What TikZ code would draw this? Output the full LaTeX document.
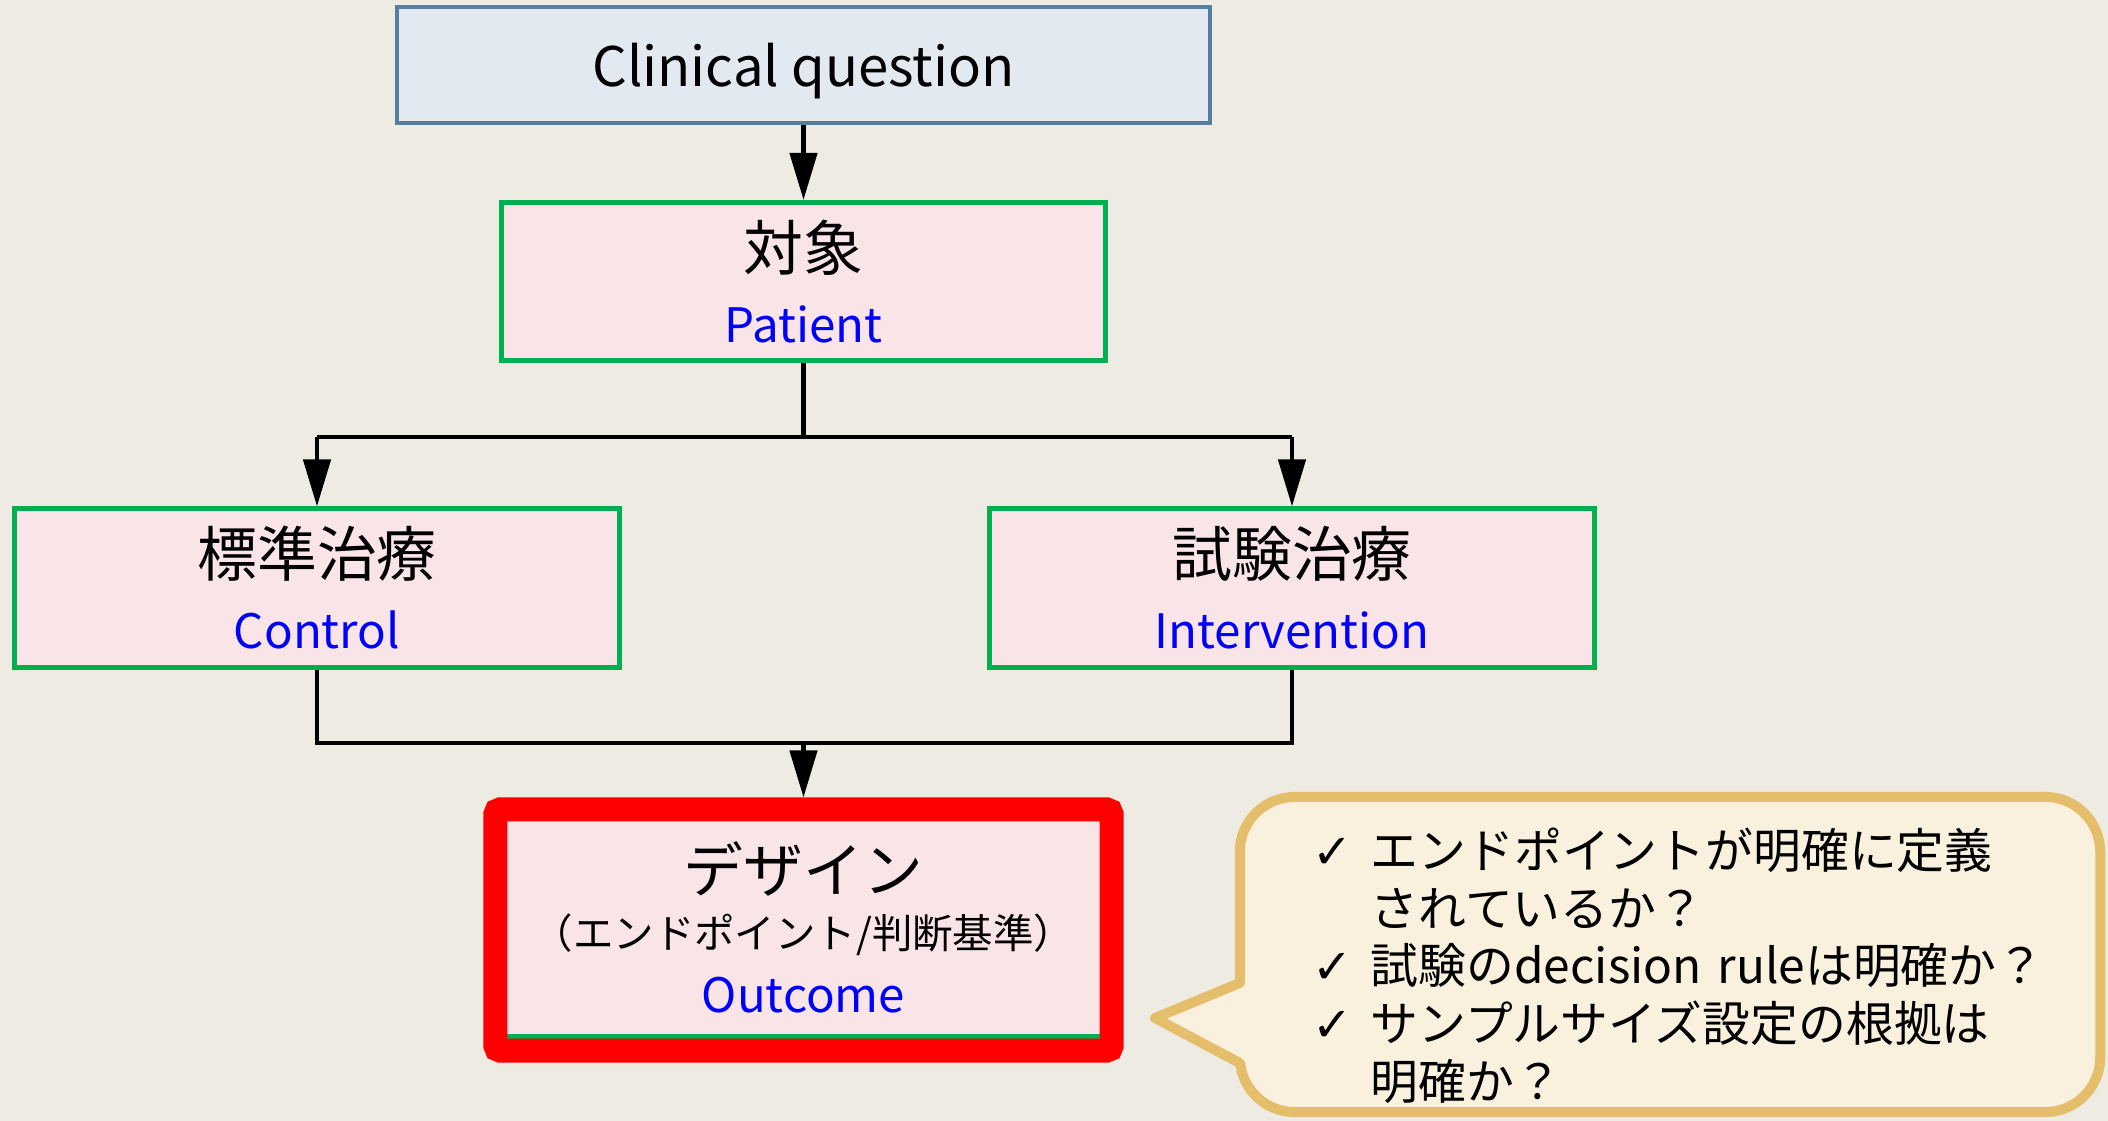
\documentclass[tikz,border=0pt]{standalone}
\usepackage{fontspec}
\setmainfont{Noto Sans CJK JP}
\newfontfamily\symfont{DejaVu Sans}
\usepackage{tikz}
\usetikzlibrary{arrows.meta,positioning,fit,calc}
\usepackage{xcolor}
\definecolor{bg}{RGB}{238,235,226}
\definecolor{qfill}{RGB}{226,233,240}
\definecolor{qline}{RGB}{86,126,158}
\definecolor{ppink}{RGB}{249,228,232}
\definecolor{pgreen}{RGB}{0,176,80}
\definecolor{bfill}{RGB}{249,240,222}
\definecolor{bline}{RGB}{228,190,106}
\newcommand{\kw}[1]{\textcolor{blue}{#1}}
\newcommand{\chk}{\makebox[0.58cm][l]{\symfont ✓}}
\tikzset{
pbox/.style = {rectangle, align=center, inner sep=0pt, text centered,
font=\fontsize{13.5pt}{0.72cm}\selectfont},
pbox_q/.style = {pbox, draw=qline, fill=qfill, line width=0.035cm, minimum width=8.13cm, minimum height=1.16cm, text depth=0pt, font=\fontsize{15.5pt}{18pt}\selectfont},% clinical question
pbox_g/.style = {pbox, draw=pgreen, fill=ppink, line width=0.05cm, minimum width=6.04cm, minimum height=1.58cm},% PICO box
pbox_d/.style = {pbox_g, minimum width=5.99cm, minimum height=2.18cm, font=\fontsize{13.5pt}{0.56cm}\selectfont},% design box
frame_r/.style = {draw=red, line width=0.24cm, rounded corners=0.05cm, inner sep=0.06cm},% red highlight
bubble/.style = {draw=bline, fill=bfill, line width=0.1cm, rounded corners=0.55cm, outer sep=0pt, minimum width=8.6cm, minimum height=3.15cm, text width=7.14cm, inner xsep=0.73cm, inner ysep=0pt, align=left, font=\fontsize{13.6pt}{0.577cm}\selectfont},% check list
wire/.style = {line width=0.045cm},
link/.style = {wire, -{Triangle[length=0.47cm,width=0.27cm]}}
}
\begin{document}
\begin{tikzpicture}[x=0.01cm, y=-0.01cm]
  \fill[bg] (0,0) rectangle (2108,1121);
  \useasboundingbox (0,0) rectangle (2108,1121);
	\node [pbox_q] (question) at (803.5,65) {Clinical question};
	\node [pbox_g] (patient) at (803.5,281.5) {{\fontsize{17pt}{0.70cm}\selectfont 対象}\\\kw{Patient}};
	\node [pbox_g] (control) at (317,588) {{\fontsize{17pt}{0.70cm}\selectfont 標準治療}\\\kw{Control}};
	\node [pbox_g] (intervention) at (1292,588) {{\fontsize{17pt}{0.70cm}\selectfont 試験治療}\\\kw{Intervention}};
	\node [pbox_d] (design) at (803.5,927) {{\fontsize{17pt}{0.56cm}\selectfont デザイン}\\{\fontsize{11.5pt}{0.56cm}\selectfont （エンドポイント/判断基準）}\\[0.08cm]\kw{Outcome}};
	\coordinate (design_foot) at ($(design.south)+(0,6)$);
	\node [frame_r, fit=(design)(design_foot)] (frame) {};
	\coordinate (split) at (803.5,437);
	\coordinate (join) at (803.5,743);
	\draw [link] (question) -- (patient);
	\draw [wire] (patient) -- (split);
	\draw [wire] (control.north |- split) -- (intervention.north |- split);
	\draw [link] (control.north |- split) -- (control);
	\draw [link] (intervention.north |- split) -- (intervention);
	\draw [wire] (control) |- (join) -| (intervention);
	\draw [link] (join) -- (frame);
	% speech bubble
	\node [bubble] (checks) at (1670,954.5) {\rule{0pt}{0.63cm}\chk エンドポイントが明確に定義\\
	  \hspace*{0.58cm}されているか？\\
	  \chk 試験のdecision~ruleは明確か？\\
	  \chk サンプルサイズ設定の根拠は\\
	  \hspace*{0.58cm}明確か？};
	\coordinate (tip) at (1155,1018);
	\fill [bfill] ($(checks.west)+(8,28.5)$) -- (tip) -- ($(checks.west)+(8,108.5)$) -- cycle;
	\draw [draw=bline, line width=0.1cm, line cap=round, line join=round] ($(checks.west)+(0,28.5)$) -- (tip) -- ($(checks.west)+(0,108.5)$);
\end{tikzpicture}
\end{document}
